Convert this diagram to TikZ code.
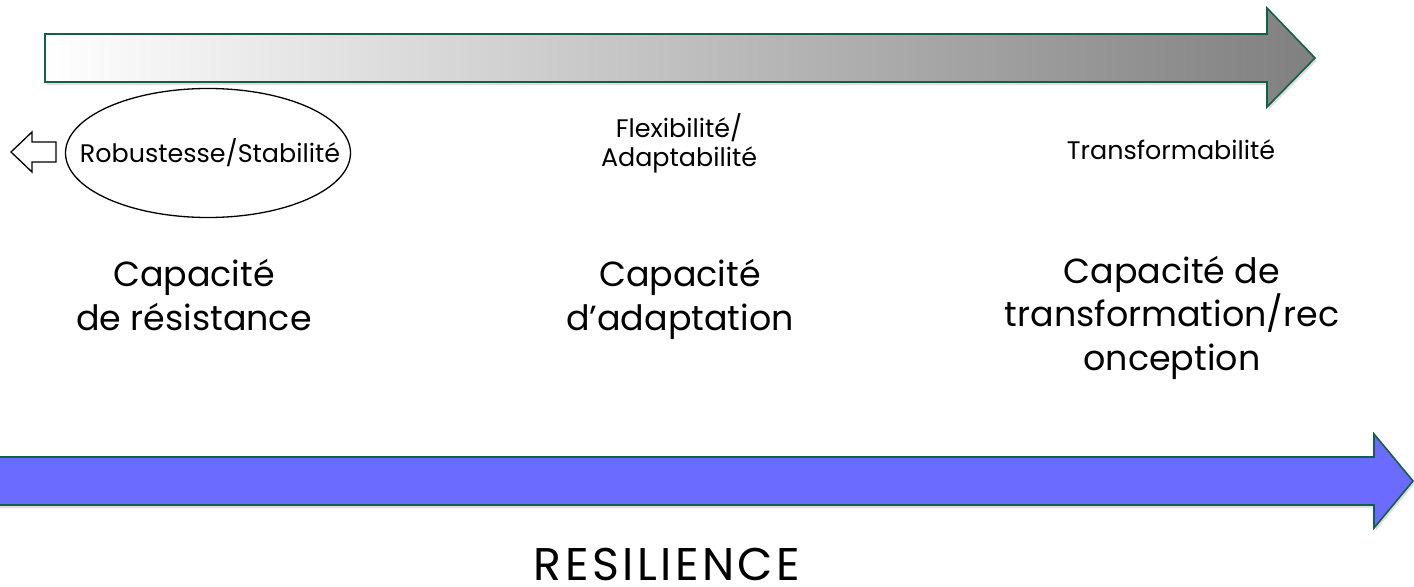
\documentclass[tikz,border=0pt]{standalone}
\usepackage{fontspec}
\setmainfont{Poppins}
\newfontfamily\resfont[LetterSpace=7.5]{Poppins}
\usetikzlibrary{shadows,shapes.geometric}
\definecolor{edgegreen}{RGB}{18,96,72}
\definecolor{resblue}{RGB}{107,107,255}
\begin{document}
\begin{tikzpicture}[x=1bp,y=-1bp,
  bigarrow/.style={draw=edgegreen,line width=1.6bp,line join=miter,
    drop shadow={shadow xshift=1.5bp,shadow yshift=-3bp,opacity=0.25}},
  smalltext/.style={font=\fontsize{25.5}{30}\selectfont,align=center,inner sep=0pt},
  bigtext/.style={font=\fontsize{35}{43.5}\selectfont,align=center,inner sep=0pt},
  restext/.style={font=\resfont\fontsize{46}{52}\selectfont,inner sep=0pt}]
\useasboundingbox (0,0) rectangle (1414,587);
% top gradient arrow
\path[bigarrow,left color=white,right color=black!50]
  (45,34) -- (1267,34) -- (1267,8) -- (1315,58) -- (1267,107) -- (1267,82) -- (45,82) -- cycle;
% bottom resilience arrow
\path[bigarrow,fill=resblue]
  (-5,457) -- (1374,457) -- (1374,434) -- (1413,481) -- (1374,528) -- (1374,505) -- (-5,505) -- cycle;
% small left arrow
\draw[line width=1.3bp,line join=miter]
  (11,152) -- (32,132) -- (32,142) -- (56,142) -- (56,162) -- (32,162) -- (32,172) -- cycle;
% labels
\node[smalltext] (robust) at (210,153) {Robustesse/Stabilité};
\draw[line width=1.3bp] (208,153) ellipse [x radius=142.5, y radius=64.5];
\node[smalltext,anchor=base] (flex) at (679,167) {Flexibilité/\\Adaptabilité};
\node[smalltext,anchor=base] (transf) at (1171,160) {Transformabilité};
\node[bigtext,anchor=base] (resist) at (194,330) {Capacité\\de résistance};
\node[bigtext,anchor=base] (adapt) at (680,330) {Capacité\\d’adaptation};
\node[bigtext,anchor=base] (transfo) at (1172,370) {Capacité de\\transformation/rec\\onception};
\node[restext,anchor=base] (resil) at (667,580) {RESILIENCE};
\end{tikzpicture}
\end{document}
